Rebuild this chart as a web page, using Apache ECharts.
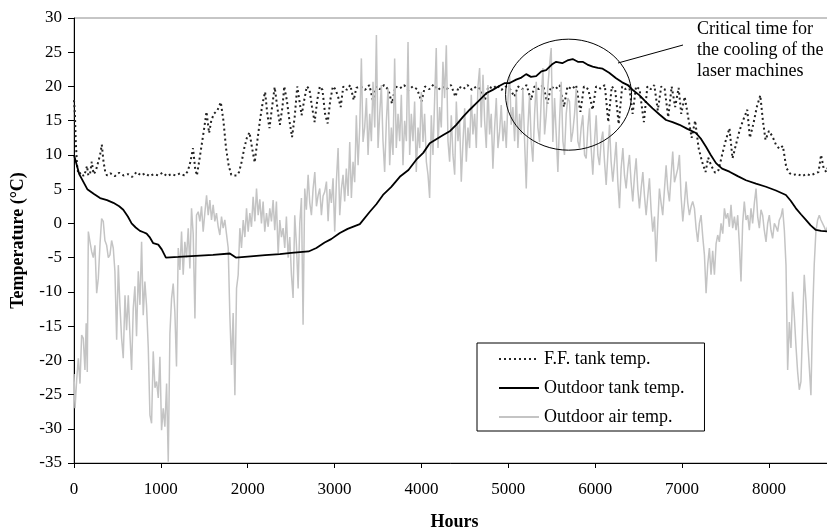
<!DOCTYPE html>
<html>
<head>
<meta charset="utf-8">
<script src="https://cdn.jsdelivr.net/npm/echarts@6/dist/echarts.min.js"></script>
<style>
html,body{margin:0;padding:0;background:#fff;}
#chart{width:827px;height:529px;}
</style>
</head>
<body>
<div id="chart"></div>
<script>
// ---- data (hours, °C) ----
var seriesNames = ['F.F. tank temp.', 'Outdoor tank temp.', 'Outdoor air temp.'];
var xTicks = [0, 1000, 2000, 3000, 4000, 5000, 6000, 7000, 8000];
var yTicks = [-35, -30, -25, -20, -15, -10, -5, 0, 5, 10, 15, 20, 25, 30];

var ffTank = [
[0,18],[10,16],[20,12],[35,8.5],[50,7.2],[70,7],[90,7.4],[110,6.9],[130,7.5],[150,8.4],[165,7],[185,7.3],[205,9],[225,7.2],[250,7.6],[275,8.8],[300,10],[320,11.5],[340,9],[360,7.5],[380,7],[420,7.3],[470,6.9],[520,7.4],[570,7],[620,7.2],[670,6.8],[720,7.5],[770,7],[820,7.3],[870,6.9],[920,7.2],[970,7],[1020,7.4],[1070,6.9],[1120,7.2],[1170,7],[1220,7.3],[1270,7],[1310,7.6],[1340,9],[1370,11],[1395,8],[1415,7],[1440,9],[1470,11.5],[1500,14],[1525,16.3],[1555,13.2],[1580,15],[1610,16],[1650,16.5],[1690,17.7],[1720,15],[1750,11],[1780,8.5],[1810,7.1],[1840,7],[1870,7],[1900,7.5],[1930,9],[1960,11],[1990,12.5],[2020,13.3],[2050,11],[2080,8.9],[2110,12],[2140,15],[2170,17.5],[2200,19.2],[2225,16],[2250,13.9],[2280,17],[2310,19.9],[2340,17],[2370,14.4],[2400,17],[2420,20],[2450,18],[2480,15],[2510,12.6],[2540,15.5],[2570,20],[2600,17.5],[2620,15.8],[2650,18],[2680,20],[2710,19.6],[2740,17],[2770,14.8],[2800,18],[2830,20],[2860,19.5],[2890,16],[2920,14.6],[2950,18],[2980,20],[3010,19.6],[3040,18.5],[3070,17],[3100,20],[3140,19.5],[3180,20.2],[3220,18],[3250,19.8],[3300,20],[3350,19.5],[3400,20.2],[3440,18],[3480,20],[3520,19.6],[3570,20.2],[3620,19.5],[3660,17.5],[3700,20],[3750,19.7],[3800,20.2],[3850,19.5],[3900,20],[3950,19.6],[4000,17.8],[4040,20],[4090,19.6],[4140,20.3],[4190,19.5],[4240,20],[4290,19.6],[4340,20.2],[4390,18.5],[4430,20],[4480,19.6],[4530,20.2],[4580,19.5],[4630,20],[4680,19.6],[4730,18],[4770,20],[4820,19.7],[4870,20.2],[4920,19.5],[4970,20],[5020,19.6],[5070,18.5],[5110,20],[5160,19.6],[5210,20.2],[5260,18],[5300,20],[5350,19.6],[5400,20.2],[5450,17.5],[5490,20],[5540,19.6],[5590,20.2],[5640,17],[5680,20],[5730,19.6],[5780,20.2],[5830,16.3],[5870,20],[5920,19.6],[5970,16.6],[6010,20],[6060,19.7],[6110,20.2],[6150,14.8],[6190,20],[6230,19.5],[6270,14.5],[6310,20],[6350,19.6],[6390,20.2],[6430,16],[6470,20],[6510,19.6],[6560,14.8],[6600,20],[6640,19.6],[6680,20.2],[6720,16.5],[6760,20],[6800,19.6],[6840,15.5],[6880,20],[6920,17],[6960,19.8],[6990,16],[7030,18.5],[7070,15.5],[7110,12.5],[7150,15],[7190,11],[7230,9],[7270,7.5],[7300,9.6],[7340,8.3],[7380,7.4],[7420,7.8],[7460,10],[7500,12],[7545,13.9],[7580,9.5],[7620,11.5],[7660,13.5],[7700,15],[7750,16.6],[7780,12.5],[7820,14.5],[7860,17],[7900,18.7],[7930,15],[7960,12.2],[8000,13.5],[8040,12.7],[8080,11.5],[8120,10.9],[8160,11.3],[8200,8.1],[8240,7.3],[8280,7.1],[8330,7.2],[8380,6.9],[8430,7.2],[8480,7],[8530,7.3],[8570,7.5],[8600,10],[8630,8],[8660,7.5],[8700,9]
];

var outdoorTank = [
[0,10],[60,7.2],[153,5],[230,4.3],[300,3.7],[380,3.4],[453,3.0],[520,2.5],[567,2.0],[620,1.0],[663,0],[710,-0.6],[759,-1.1],[800,-1.3],[836,-1.5],[870,-2.0],[912,-2.9],[970,-3.1],[1010,-3.8],[1058,-5],[1200,-4.9],[1400,-4.75],[1600,-4.6],[1794,-4.4],[1863,-5],[2000,-4.85],[2200,-4.65],[2369,-4.5],[2500,-4.3],[2700,-4.1],[2790,-3.6],[2885,-2.8],[2960,-2.3],[3060,-1.4],[3150,-0.8],[3290,-0.1],[3405,1.7],[3480,2.8],[3557,4.15],[3650,5.3],[3750,6.8],[3850,7.8],[3940,9.3],[4020,10.3],[4095,11.7],[4170,12.3],[4250,12.9],[4330,13.5],[4400,14.4],[4480,15.6],[4555,16.6],[4650,17.8],[4745,19],[4820,19.5],[4900,20.1],[4960,20.5],[5015,20.5],[5090,21],[5150,21.3],[5205,21.8],[5260,21.4],[5320,21.5],[5380,22.2],[5435,22.4],[5500,23.2],[5550,23.6],[5620,23.4],[5680,23.8],[5740,24],[5800,23.6],[5855,23.6],[5910,23.2],[5970,22.9],[6030,22.7],[6085,22.6],[6160,22],[6240,21.2],[6310,20.6],[6375,20.2],[6440,19.4],[6510,18.7],[6580,17.8],[6660,16.8],[6740,15.9],[6815,15.1],[6890,14.8],[6970,14.4],[7060,13.8],[7160,13.2],[7220,12.3],[7275,11.2],[7330,10],[7390,8.8],[7460,8],[7545,7.55],[7640,6.9],[7735,6.3],[7850,5.8],[7965,5.35],[8080,4.8],[8195,4.15],[8250,3.3],[8310,2.2],[8370,1.3],[8425,0.5],[8480,-0.3],[8540,-0.96],[8600,-1.1],[8700,-1.2]
];

var outdoorAir = [
[0,-22],[12,-27],[30,-23],[50,-19.7],[69,-23.4],[88,-16.3],[107,-16.8],[126,-21.4],[140,-14.6],[153,-21.7],[165,-1.2],[184,-2.7],[203,-4.1],[222,-5],[241,-3.2],[261,-10.2],[280,-8],[300,-2.9],[318,0.7],[337,0.3],[356,-2.5],[376,-3.2],[395,-5],[414,-4.6],[433,-2.5],[452,-3.6],[471,-7],[491,-17],[510,-6.1],[529,-12],[548,-16.8],[567,-19.7],[587,-10.5],[605,-15.6],[625,-10.5],[644,-16.3],[663,-21.4],[682,-12.4],[701,-9.2],[720,-16.5],[740,-7.0],[759,-11.9],[778,-2.7],[797,-13.4],[816,-8.5],[835,-12],[855,-18.2],[874,-28],[893,-29.2],[912,-18.7],[932,-24],[951,-23.1],[970,-25.5],[989,-19.5],[1008,-30.2],[1027,-27],[1046,-29.7],[1066,-23.4],[1085,-34.8],[1104,-16.1],[1123,-11],[1142,-8.8],[1161,-12.9],[1180,-20.9],[1200,-3.6],[1219,-6.8],[1238,-1.2],[1257,-7.5],[1276,-2.7],[1295,-5],[1315,-0.7],[1334,-6.6],[1353,2.2],[1372,-1.5],[1392,-13.9],[1410,1.2],[1430,1.7],[1449,0.3],[1468,2.5],[1487,-1.2],[1506,1.5],[1526,4.1],[1545,1.2],[1564,3.4],[1583,0.5],[1602,2.7],[1621,0.3],[1640,1.5],[1660,-0.5],[1679,-1.7],[1698,1],[1717,-0.7],[1736,0.5],[1755,-1.5],[1775,-3.6],[1794,-13.4],[1813,-20.7],[1832,-13.1],[1852,-25.1],[1871,-9.5],[1890,-7.5],[1909,-0.7],[1928,-3.6],[1948,0.5],[1967,-2],[1986,2.2],[2005,-1.2],[2024,1.5],[2043,-0.5],[2062,3.9],[2082,0.3],[2101,5.1],[2120,1.2],[2139,3.5],[2158,0],[2177,3.2],[2196,-1.2],[2216,1.5],[2235,-0.5],[2254,2.2],[2273,0.3],[2292,3.4],[2311,-1],[2330,3.2],[2350,-4.6],[2369,0.5],[2388,-2],[2407,-0.7],[2426,-3.6],[2445,1],[2465,-5],[2484,-2],[2503,-7.5],[2522,-10.9],[2541,1.2],[2560,-3],[2580,-9.5],[2599,0],[2618,3.7],[2637,-14.8],[2656,5.1],[2675,2],[2695,7.1],[2714,3],[2733,1.2],[2752,5],[2772,7.5],[2791,2.5],[2810,4.1],[2829,5.1],[2848,1.2],[2867,4],[2886,4.6],[2906,6.1],[2925,0.3],[2944,5],[2963,3],[2982,6.6],[3001,-1.2],[3020,6],[3040,11],[3059,1.2],[3078,5],[3097,7.1],[3116,3.2],[3135,8],[3155,4],[3174,11.9],[3193,3.7],[3212,9],[3231,6],[3250,15.8],[3270,8.5],[3289,14],[3308,24.1],[3327,11.9],[3346,14],[3366,18.3],[3385,10],[3404,16],[3423,12],[3442,20.7],[3462,14],[3481,27.5],[3500,11],[3519,16],[3538,20.2],[3557,12],[3576,7.5],[3596,15],[3615,19.7],[3634,8.5],[3653,14],[3672,10],[3691,24.1],[3710,11],[3730,16],[3749,12],[3768,18.8],[3787,8.5],[3806,15],[3826,12],[3845,26.5],[3864,10],[3883,16],[3902,12],[3921,17.8],[3940,7.5],[3960,14],[3979,11],[3998,19.2],[4017,11.9],[4036,16],[4056,9],[4075,7.1],[4094,3.7],[4113,15.8],[4132,10],[4151,18],[4170,25.6],[4190,11],[4209,17],[4228,14],[4247,23.6],[4266,18.3],[4286,26],[4305,12],[4324,9],[4343,15.8],[4362,10],[4382,7.1],[4401,17.8],[4420,12],[4439,15],[4458,6.1],[4478,12],[4497,16.8],[4516,9],[4535,14],[4554,11],[4573,18.8],[4592,13],[4612,16],[4631,11],[4650,20],[4669,22.7],[4688,14],[4708,21.7],[4727,15],[4746,11],[4765,20.2],[4784,13],[4803,16],[4822,8],[4842,14],[4861,18.3],[4880,11],[4899,13.4],[4918,17.3],[4938,12],[4957,15],[4976,11],[4995,18],[5014,21.7],[5033,14.4],[5052,17],[5072,12],[5091,19.2],[5110,11],[5129,16],[5148,13],[5167,19.7],[5187,12],[5206,5.1],[5225,14],[5244,18.8],[5263,12],[5282,9],[5302,16],[5321,20.7],[5340,14],[5359,11.9],[5378,18],[5398,22.7],[5417,13],[5436,15.8],[5455,20],[5474,23.1],[5493,25.6],[5512,11.9],[5532,18.3],[5551,13],[5570,7.5],[5589,15],[5608,20.7],[5628,12],[5646,10],[5666,16],[5685,18.3],[5704,17.8],[5723,11.9],[5742,13.4],[5762,16],[5781,19.7],[5800,12],[5819,11],[5838,14],[5857,15.8],[5877,10],[5896,9.5],[5915,14],[5934,16.8],[5953,11],[5972,7.1],[5992,12],[6011,15.8],[6030,10],[6049,8.5],[6068,12],[6087,13.4],[6107,9],[6126,5.6],[6145,10],[6164,14.4],[6183,9],[6202,6.1],[6222,9],[6241,11.9],[6260,6],[6279,2.2],[6298,8],[6318,11],[6337,7],[6356,5.1],[6375,8],[6394,10],[6413,6],[6432,3.2],[6452,7],[6471,9.5],[6490,5],[6509,2.2],[6528,5],[6548,7.5],[6567,4],[6586,1.2],[6605,4],[6624,6.6],[6643,2],[6662,-1.2],[6682,1],[6701,-5.6],[6720,0],[6739,5.1],[6758,3],[6777,1.2],[6797,5],[6816,8.5],[6835,5],[6854,3.2],[6873,7],[6892,10.5],[6912,6],[6931,6.1],[6950,8],[6969,10],[6988,4],[7008,0.3],[7027,3],[7046,6.1],[7065,3],[7084,1.2],[7104,2.5],[7122,3.2],[7142,2.2],[7161,-0.7],[7180,-2.7],[7199,0],[7218,1.2],[7238,-2],[7257,-4.6],[7276,-10.2],[7295,-6],[7314,-3.6],[7333,-7.5],[7352,-4],[7372,-7.5],[7391,-3],[7410,-1.7],[7429,-2.7],[7448,0],[7468,-1.5],[7487,2.2],[7506,0.7],[7525,1.5],[7544,-0.5],[7563,2.7],[7582,-0.7],[7602,1],[7621,-1],[7640,1.2],[7659,-3],[7678,-8.5],[7697,0],[7716,3.2],[7736,0.5],[7755,1.2],[7774,-1],[7793,2.2],[7812,0],[7832,3],[7851,5.1],[7870,1],[7889,-0.7],[7908,2],[7927,1.2],[7946,-1],[7966,-2.7],[7985,0],[8004,1.2],[8023,-1],[8042,-2.2],[8062,0],[8081,-0.5],[8100,-1.2],[8119,0.5],[8138,1],[8157,2.2],[8177,-1],[8196,-6.1],[8215,-21.4],[8234,-14.4],[8253,-18.2],[8272,-10],[8291,-13.4],[8311,-18],[8330,-21.7],[8349,-24.3],[8368,-23.1],[8387,-15],[8406,-7.5],[8426,-11.4],[8445,-17],[8464,-21],[8483,-25.1],[8502,-13.4],[8521,-6],[8540,-1.2],[8560,0.5],[8579,1.2],[8598,0.5],[8617,0.3],[8636,-0.5],[8655,-1.2],[8674,-0.5],[8700,0]
];

var annotationLines = ['Critical time for', 'the cooling of the', 'laser machines'];
var annotationAnchor = [5693, 18.8];

// ---- chart ----
var FONT = 'Liberation Serif';
var chart = echarts.init(document.getElementById('chart'), null, {renderer: 'canvas'});
var option = {
  animation: false,
  backgroundColor: '#ffffff',
  grid: {left: 74, top: 18, width: 761, height: 445, outerBoundsMode: 'none', containLabel: false,
         show: true, borderColor: '#8c8c8c', borderWidth: 1, backgroundColor: 'transparent'},
  legend: {
    orient: 'vertical', left: 477, top: 343,
    data: seriesNames,
    itemWidth: 40, itemHeight: 14, itemGap: 11,
    padding: [7, 20, 5, 21],
    borderColor: '#000', borderWidth: 1, backgroundColor: '#fff',
    itemStyle: {opacity: 0},
    textStyle: {fontFamily: FONT, fontSize: 18, color: '#000', lineHeight: 18},
    selectedMode: false
  },
  xAxis: {
    type: 'value', min: 0, max: 8760, interval: 1000,
    name: 'Hours', nameLocation: 'middle', nameGap: 50,
    nameTextStyle: {fontFamily: FONT, fontSize: 18, fontWeight: 'bold', color: '#000'},
    axisLine: {onZero: false, lineStyle: {color: '#000', width: 1}},
    axisTick: {show: true, length: 5, lineStyle: {color: '#000'}},
    axisLabel: {fontFamily: FONT, fontSize: 17, color: '#000', margin: 18,
      formatter: function (v) { return xTicks.indexOf(v) >= 0 ? String(v) : ''; }},
    splitLine: {show: false}
  },
  yAxis: {
    type: 'value', min: -35, max: 30, interval: 5,
    name: 'Temperature (°C)', nameLocation: 'middle', nameGap: 47,
    nameTextStyle: {fontFamily: FONT, fontSize: 18, fontWeight: 'bold', color: '#000'},
    axisLine: {show: true, onZero: false, lineStyle: {color: '#000', width: 1}},
    axisTick: {show: true, length: 6, lineStyle: {color: '#000'}},
    axisLabel: {fontFamily: FONT, fontSize: 17, color: '#000', margin: 12,
      formatter: function (v) { return yTicks.indexOf(v) >= 0 ? String(v) : ''; }},
    splitLine: {show: false}
  },
  series: [
    {name: seriesNames[0], type: 'line', data: ffTank, symbol: 'none', showSymbol: false,
     lineStyle: {color: '#222', width: 2, type: [2, 3]}, itemStyle: {color: '#222'}, z: 2},
    {name: seriesNames[1], type: 'line', data: outdoorTank, symbol: 'none', showSymbol: false,
     lineStyle: {color: '#000', width: 1.8}, itemStyle: {color: '#000'}, z: 3},
    {name: seriesNames[2], type: 'line', data: outdoorAir, symbol: 'none', showSymbol: false,
     lineStyle: {color: '#c4c4c4', width: 1.5}, itemStyle: {color: '#c4c4c4'}, z: 2}
  ]
};
chart.setOption(option);

var c = chart.convertToPixel({gridIndex: 0}, annotationAnchor);
chart.setOption({
  graphic: [
    {type: 'ellipse', shape: {cx: c[0], cy: c[1], rx: 63, ry: 55.5}, style: {fill: 'none', stroke: '#000', lineWidth: 1}, z: 50},
    {type: 'line', shape: {x1: 618, y1: 63, x2: 683, y2: 45}, style: {stroke: '#000', lineWidth: 1}, z: 50},
    {type: 'text', left: 697, top: 19, style: {text: annotationLines.join('\n'), font: '18px "Liberation Serif"', fill: '#000', lineHeight: 21}, z: 50}
  ]
});
</script>
</body>
</html>
